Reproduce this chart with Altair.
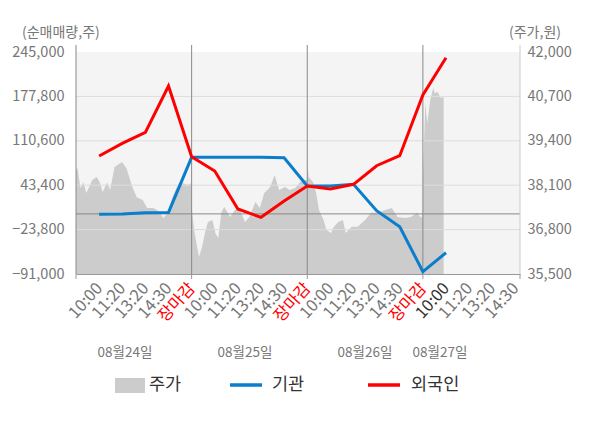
import altair as alt
import pandas as pd

FONT = "Noto Sans CJK KR"

# ---------------- data ----------------
slot_labels = ["10:00", "11:20", "13:20", "14:30", "장마감"] * 3 + ["10:00", "11:20", "13:20", "14:30"]
dates = ["08월24일", "08월25일", "08월26일", "08월27일"]
left_ticks = [-91000, -23800, 43400, 110600, 177800, 245000]
right_ticks = [35500, 36800, 38100, 39400, 40700, 42000]

# net buying at each time slot (08/24 10:00 ... 08/27 10:00)
foreign = [87600, 106800, 123400, 193500, 86600, 64900, 7400, -5200, 19500,
           42200, 37600, 44700, 72900, 88000, 179900, 236400]
institution = [-600, -300, 1800, 2200, 85600, 85600, 85600, 85600, 84900,
               42200, 42200, 44700, 4800, -19400, -87500, -58800]

# intraday stock price (minutes after 09:00, price)
d1_min = [0, 5, 15, 25, 35, 55, 70, 80, 90, 105, 115, 130, 155, 170, 190, 205,
          225, 240, 260, 275, 295, 310, 325, 340, 360, 375, 390]
d1_px = [38545, 38600, 38020, 38190, 37870, 38250, 38340, 38190, 37900, 38190,
         37960, 38630, 38780, 38600, 38050, 37750, 37670, 37430, 37430, 37370,
         37140, 37290, 37750, 38050, 38160, 38110, 38160]
d2_min = [0, 10, 25, 35, 45, 55, 70, 80, 90, 100, 110, 130, 145, 160, 180, 195,
          215, 230, 245, 265, 280, 295, 315, 330, 350, 365, 380, 390]
d2_px = [37430, 36700, 36000, 36290, 36700, 37020, 37080, 36700, 36550, 37290,
         37460, 37170, 37370, 37430, 37020, 37170, 37610, 37430, 37870, 38050,
         38400, 37960, 38050, 37960, 38020, 38190, 38250, 38250]
d3_min = [0, 5, 20, 30, 40, 55, 65, 80, 90, 105, 120, 130, 150, 170, 195, 215,
          240, 260, 285, 305, 330, 350, 370, 385, 390]
d3_px = [38780, 38340, 38190, 37870, 37370, 37080, 36790, 36700, 36880, 37020,
         37080, 36700, 36880, 36880, 37080, 37290, 37290, 37370, 37430, 37170,
         37140, 37170, 37290, 37140, 37290]
d4_min = [0, 8, 15, 25, 35, 40, 50, 60, 70]
d4_px = [38250, 40500, 39920, 40600, 40950, 40800, 40830, 40650, 40680]

legend_names = ["주가", "기관", "외국인"]
BLUE = "#0a7dcc"
RED = "#ff0000"

# ---------------- tables ----------------
rows = []
for day, (mins, pxs) in enumerate([(d1_min, d1_px), (d2_min, d2_px), (d3_min, d3_px), (d4_min, d4_px)]):
    for m, p in zip(mins, pxs):
        rows.append({"x": day * 5 + m / 390 * 5, "price": p})
area_df = pd.DataFrame(rows)

line_rows = []
for i, v in enumerate(institution):
    line_rows.append({"x": i + 1, "v": v, "s": "기관"})
for i, v in enumerate(foreign):
    line_rows.append({"x": i + 1, "v": v, "s": "외국인"})
line_df = pd.DataFrame(line_rows)

n_slots = len(slot_labels)
label_expr = "[''," + ",".join("'%s'" % s for s in slot_labels) + "][datum.value]"
X_DOMAIN = [0, 19.2]
xscale = alt.Scale(domain=X_DOMAIN, nice=False, zero=False)
lscale = alt.Scale(domain=[left_ticks[0], left_ticks[-1]], nice=False, zero=False)
rscale = alt.Scale(domain=[right_ticks[0], right_ticks[-1]], nice=False, zero=False)

x_axis = alt.Axis(
    values=list(range(1, n_slots + 1)), labelExpr=label_expr, labelAngle=-48,
    labelAlign="right", labelBaseline="middle", labelFont=FONT, labelFontSize=16.5,
    labelColor={"condition": [{"test": "datum.value % 5 === 0", "value": RED},
                              {"test": "datum.value === 16", "value": "#333333"}],
                "value": "#777777"},
    labelOverlap=False, labelFlush=False, labelPadding=11, ticks=False,
    domain=True, domainColor="#999999", grid=False, title=None,
)

NUM_EXPR = "format(datum.value, ',')"

area = alt.Chart(area_df).mark_area(color="#cccccc", clip=True).encode(
    x=alt.X("x:Q", scale=xscale, axis=x_axis),
    y=alt.Y("price:Q", scale=rscale, axis=alt.Axis(
        orient="right", values=right_ticks, labelExpr=NUM_EXPR, labelFont=FONT, labelFontSize=14.5,
        labelColor="#777777", labelPadding=7, ticks=False, domain=False, grid=False,
        labelFlush=False, labelOverlap=False, title=None)),
    y2=alt.datum(right_ticks[0]),
)

grid = alt.Chart(pd.DataFrame({"v": left_ticks[1:-1]})).mark_rule(color="#dddddd", strokeWidth=1).encode(
    y=alt.Y("v:Q", scale=lscale, axis=None)
)
zero = alt.Chart(pd.DataFrame({"v": [0]})).mark_rule(color="#888888", strokeWidth=1).encode(
    y=alt.Y("v:Q", scale=lscale, axis=None)
)
day_lines = alt.Chart(pd.DataFrame({"x": [0, 5, 10, 15]})).mark_rule(color="#888888", strokeWidth=1).encode(
    x=alt.X("x:Q", scale=xscale, axis=None), y=alt.value(-7), y2=alt.value(222)
)
right_edge = alt.Chart(pd.DataFrame({"x": [X_DOMAIN[1]]})).mark_rule(color="#cccccc", strokeWidth=1).encode(
    x=alt.X("x:Q", scale=xscale, axis=None), y=alt.value(-7), y2=alt.value(222)
)
tick_marks = alt.Chart(pd.DataFrame({"x": [0, 5, 10, 15, X_DOMAIN[1]]})).mark_rule(color="#999999", strokeWidth=1).encode(
    x=alt.X("x:Q", scale=xscale, axis=None), y=alt.value(222), y2=alt.value(227)
)

lines = alt.Chart(line_df).mark_line(strokeWidth=3).encode(
    x=alt.X("x:Q", scale=xscale, axis=None),
    y=alt.Y("v:Q", scale=lscale, axis=alt.Axis(
        orient="left", values=left_ticks, labelExpr=NUM_EXPR, labelFont=FONT, labelFontSize=14.5,
        labelColor="#777777", labelPadding=12, ticks=False, domain=False, grid=False,
        labelFlush=False, labelOverlap=False, title=None)),
    color=alt.Color("s:N", scale=alt.Scale(domain=["기관", "외국인"], range=[BLUE, RED]), legend=None),
)


def txt(s, x, y, size, color, align="left"):
    return alt.Chart(alt.Data(values=[{"t": s}])).mark_text(
        align=align, baseline="middle", font=FONT, fontSize=size, color=color
    ).encode(text="t:N", x=alt.value(x), y=alt.value(y))


one = alt.Data(values=[{"a": 1}])
titles = [txt("(순매매량,주)", -54, -19, 14, "#777777"), txt("(주가,원)", 433, -19, 14, "#777777")]
date_x = [49, 169, 289, 364]
date_txt = [txt(d, dx, 301, 13.5, "#777777", "center") for d, dx in zip(dates, date_x)]

leg_rect = alt.Chart(one).mark_rect(color="#cccccc").encode(
    x=alt.value(39), x2=alt.value(69), y=alt.value(326), y2=alt.value(341))
leg_blue = alt.Chart(one).mark_rule(color=BLUE, strokeWidth=3.5).encode(
    x=alt.value(154), x2=alt.value(186), y=alt.value(333))
leg_red = alt.Chart(one).mark_rule(color=RED, strokeWidth=3.5).encode(
    x=alt.value(292), x2=alt.value(324), y=alt.value(333))
leg_txt = [txt(legend_names[0], 73, 333, 17.5, "#333333"),
           txt(legend_names[1], 196, 333, 17.5, "#333333"),
           txt(legend_names[2], 335, 333, 17.5, "#333333")]

chart = alt.layer(
    area, grid, zero, day_lines, right_edge, lines, tick_marks,
    *titles, *date_txt, leg_rect, leg_blue, leg_red, *leg_txt
).resolve_scale(y="independent").resolve_axis(x="independent").properties(
    width=444, height=222,
    autosize=alt.AutoSizeParams(type="none"),
    padding={"left": 68, "top": 44, "right": 72, "bottom": 146},
    background="white",
).configure_view(fill="#f4f4f4", stroke=None)

chart.save("out.html", embed_options={"renderer": "svg", "actions": False})
